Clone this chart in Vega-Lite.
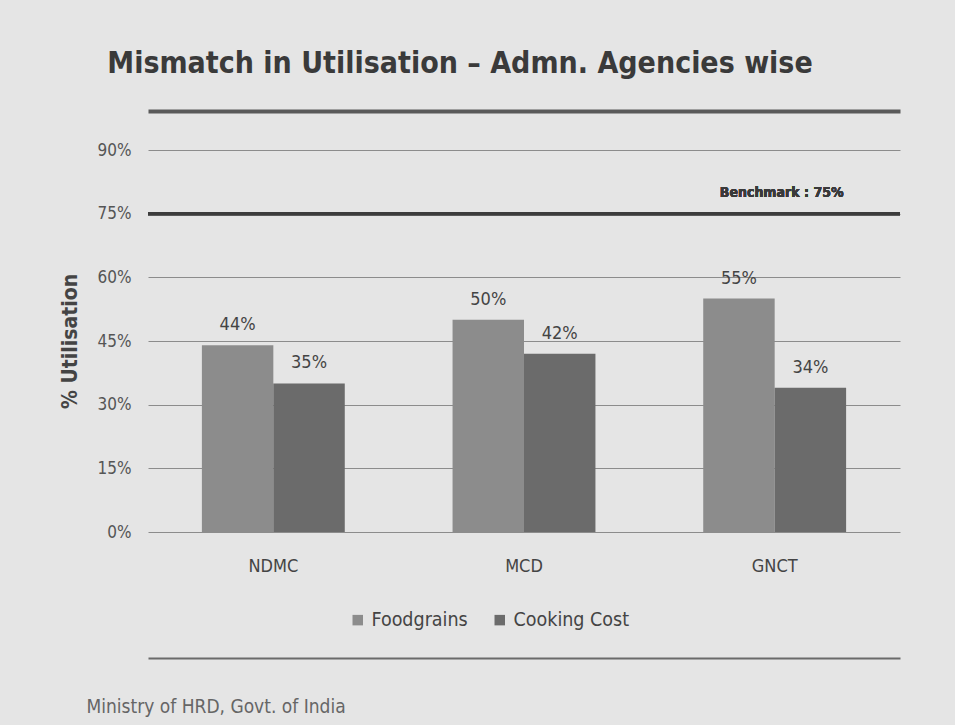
{
  "$schema": "https://vega.github.io/schema/vega-lite/v6.json",
  "width": 752,
  "height": 382,
  "autosize": {"type": "none"},
  "padding": {"left": 148, "top": 150, "right": 55, "bottom": 193},
  "background": "#e5e5e5",
  "title": {
    "text": "Mismatch in Utilisation – Admn. Agencies wise",
    "font": "DejaVu Sans Condensed, Liberation Sans",
    "fontSize": 30,
    "fontWeight": "bold",
    "color": "#3a3a3a",
    "anchor": "middle",
    "dx": -64,
    "offset": 32,
    "frame": "group"
  },
  "data": {
    "values": [
      {"agency": "NDMC", "series": "Foodgrains", "value": 0.44},
      {"agency": "NDMC", "series": "Cooking Cost", "value": 0.35},
      {"agency": "MCD", "series": "Foodgrains", "value": 0.50},
      {"agency": "MCD", "series": "Cooking Cost", "value": 0.42},
      {"agency": "GNCT", "series": "Foodgrains", "value": 0.55},
      {"agency": "GNCT", "series": "Cooking Cost", "value": 0.34}
    ]
  },
  "config": {
    "view": {"stroke": null},
    "font": "DejaVu Sans Condensed, Liberation Sans"
  },
  "resolve": {"axis": {"x": "independent"}},
  "layer": [
    {
      "mark": {"type": "bar"},
      "encoding": {
        "x": {
          "field": "agency",
          "type": "nominal",
          "sort": ["NDMC", "MCD", "GNCT"],
          "scale": {"paddingInner": 0.43, "paddingOuter": 0.215},
          "axis": {
            "title": "Ministry of HRD, Govt. of India",
            "titleFontSize": 19,
            "titleFontWeight": "normal",
            "titleColor": "#666666",
            "titleAnchor": "start",
            "titleAlign": "left",
            "titleBaseline": "middle",
            "titleX": -62,
            "titleY": 174,
            "labelAngle": 0,
            "labelFontSize": 18,
            "labelColor": "#444444",
            "labelPadding": 34,
            "labelBaseline": "middle",
            "ticks": false,
            "domain": false
          }
        },
        "xOffset": {"field": "series", "type": "nominal", "sort": ["Foodgrains", "Cooking Cost"]},
        "y": {
          "field": "value",
          "type": "quantitative",
          "scale": {"domain": [0, 0.9], "nice": false},
          "axis": {
            "title": "% Utilisation",
            "titleFontSize": 21,
            "titleFontWeight": "bold",
            "titleColor": "#444444",
            "titlePadding": 17,
            "values": [0, 0.15, 0.3, 0.45, 0.6, 0.75, 0.9],
            "format": ".0%",
            "labelFontSize": 17,
            "labelColor": "#555555",
            "labelPadding": 17,
            "grid": true,
            "gridColor": "#8c8c8c",
            "gridWidth": 1,
            "domain": false,
            "ticks": false
          }
        },
        "color": {
          "field": "series",
          "type": "nominal",
          "sort": ["Foodgrains", "Cooking Cost"],
          "scale": {"domain": ["Foodgrains", "Cooking Cost"], "range": ["#8c8c8c", "#6b6b6b"]},
          "legend": {
            "title": null,
            "orient": "none",
            "direction": "horizontal",
            "legendX": 200,
            "legendY": 460,
            "symbolType": "square",
            "symbolSize": 110,
            "labelFontSize": 19.5,
            "labelColor": "#444444",
            "labelOffset": 4,
            "columnPadding": 22
          }
        }
      }
    },
    {
      "mark": {"type": "text", "dy": -20, "fontSize": 18, "color": "#444444"},
      "encoding": {
        "x": {
          "field": "agency",
          "type": "nominal",
          "sort": ["NDMC", "MCD", "GNCT"],
          "axis": {"orient": "bottom", "offset": 126, "labels": false, "ticks": false, "title": null, "domain": true, "domainColor": "#6a6a6a", "domainWidth": 2}
        },
        "xOffset": {"field": "series", "type": "nominal", "sort": ["Foodgrains", "Cooking Cost"]},
        "y": {"field": "value", "type": "quantitative"},
        "text": {"field": "value", "type": "quantitative", "format": ".0%"}
      }
    },
    {
      "mark": {"type": "rule", "color": "#3c3c3c", "strokeWidth": 3},
      "encoding": {"y": {"datum": 0.75}}
    },
    {
      "mark": {"type": "text", "text": "Benchmark : 75%", "fontWeight": "bold", "fontSize": 14, "color": "#3a3a3a", "dy": -21, "dx": 7},
      "encoding": {
        "x": {
          "datum": "GNCT",
          "axis": {"orient": "top", "offset": 39, "labels": false, "ticks": false, "title": null, "domain": true, "domainColor": "#5a5a5a", "domainWidth": 4}
        },
        "y": {"datum": 0.75}
      }
    }
  ]
}
